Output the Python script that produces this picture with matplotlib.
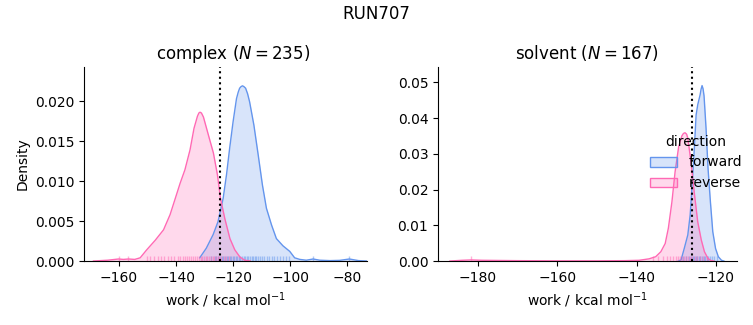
import matplotlib.pyplot as plt
import matplotlib.transforms as mtransforms
from matplotlib.patches import Patch

# density curves (x in kcal/mol, y = density)
complex_fwd_x = [-131.7, -129.4, -127.0, -125.3, -123.5, -122.3, -121.2, -120.0, -118.8, -118.2,
                 -117.7, -117.2, -116.7, -116.2, -115.6, -114.9, -114.2, -112.7, -111.2, -109.7,
                 -108.3, -106.5, -104.8, -102.5, -100.1, -98.4, -96.6, -94.3, -91.9, -89.6,
                 -86.0, -82.6, -79.2, -76.0, -73.0]
complex_fwd_y = [0.0004, 0.0016, 0.0033, 0.0049, 0.0078, 0.0108, 0.0141, 0.0174, 0.0203, 0.0211,
                 0.0216, 0.0218, 0.0219, 0.0218, 0.0216, 0.0209, 0.0199, 0.0170, 0.0133, 0.0095,
                 0.0066, 0.0045, 0.0028, 0.0019, 0.0012, 0.0004, 0.0002, 0.0001, 0.00025, 0.0001,
                 0.00005, 0.00008, 0.00025, 0.00005, 0.0]

complex_rev_x = [-169.0, -164.0, -160.2, -158.5, -156.7, -154.5, -152.6, -150.3, -147.3, -144.4,
                 -142.1, -140.3, -138.6, -136.9, -135.1, -133.7, -132.5, -132.0, -131.6, -131.1,
                 -130.4, -128.7, -126.9, -125.5, -124.4, -122.9, -121.1, -119.4, -117.6, -115.9,
                 -114.0]
complex_rev_y = [0.0, 0.0001, 0.00025, 0.0002, 0.00025, 0.0002, 0.0004, 0.0014, 0.0026, 0.0039,
                 0.0058, 0.0078, 0.0097, 0.0114, 0.0139, 0.0166, 0.0181, 0.0185, 0.0186, 0.0185,
                 0.0180, 0.0158, 0.0135, 0.0108, 0.0078, 0.0053, 0.0028, 0.0014, 0.0005, 0.0001,
                 0.0]

solvent_fwd_x = [-129.5, -128.8, -128.0, -127.1, -126.5, -126.0, -125.5, -125.0, -124.6, -124.0,
                 -123.75, -123.5, -123.25, -123.0, -122.5, -122.0, -121.4, -120.8, -120.1, -119.4,
                 -118.6, -118.0]
solvent_fwd_y = [0.0, 0.0003, 0.0035, 0.0073, 0.0129, 0.0213, 0.0306, 0.0409, 0.0437, 0.0465,
                 0.0481, 0.0491, 0.0482, 0.0462, 0.0372, 0.0260, 0.0166, 0.0082, 0.0035, 0.0012,
                 0.0002, 0.0]

solvent_rev_x = [-187.1, -184.0, -181.7, -179.0, -170.0, -160.0, -150.0, -143.0, -139.4, -136.9,
                 -135.2, -133.9, -132.8, -132.0, -131.1, -130.3, -129.4, -128.6, -128.2, -127.8,
                 -127.4, -127.1, -126.3, -125.4, -124.6, -123.7, -122.9, -122.0, -121.2, -120.5]
solvent_rev_y = [0.0, 0.0002, 0.0003, 0.0002, 0.0001, 0.00005, 0.00005, 0.0001, 0.0002, 0.0006,
                 0.0012, 0.0026, 0.0049, 0.0092, 0.0166, 0.0250, 0.0320, 0.0350, 0.0357, 0.0359,
                 0.0355, 0.0344, 0.0278, 0.0185, 0.0110, 0.0059, 0.0026, 0.0007, 0.0001, 0.0]

# rug positions (approximate individual work values)
complex_fwd_rug = [-127.8, -126.5, -125.9, -125.2, -124.6, -124.0, -123.4, -122.9, -122.3, -121.8,
                   -121.2, -120.7, -120.1, -119.6, -119.0, -118.5, -118.0, -117.4, -116.9, -116.3,
                   -115.8, -115.2, -114.7, -114.1, -113.5, -113.0, -112.4, -111.8, -111.1, -110.5,
                   -109.8, -109.0, -108.2, -107.3, -106.4, -105.5, -104.5, -103.6, -102.6, -101.5,
                   -100.4, -92.0, -79.2]
complex_rev_rug = [-160.2, -156.7, -150.2, -149.0, -147.8, -146.5, -145.4, -144.1, -142.9, -141.8,
                   -140.6, -139.5, -138.5, -137.6, -136.8, -136.0, -135.3, -134.6, -133.9, -133.2,
                   -132.6, -132.0, -131.4, -130.8, -130.2, -129.6, -129.0, -128.4, -127.8, -127.2,
                   -126.6, -126.0, -125.4, -124.8, -124.1, -123.3, -122.4, -121.4]
solvent_fwd_rug = [-128.2, -127.5, -126.9, -126.4, -125.9, -125.5, -125.1, -124.7, -124.3, -123.9,
                   -123.5, -123.1, -122.7, -122.3, -121.9, -121.5, -121.0, -120.5, -119.8]
solvent_rev_rug = [-181.7, -136.0, -134.5, -133.3, -132.4, -131.6, -130.9, -130.2, -129.6, -129.0,
                   -128.5, -128.0, -127.5, -127.0, -126.5, -126.0, -125.4, -124.8, -124.1, -123.2,
                   -122.3]

panels = ['complex', 'solvent']
n_samples = [235, 167]
vline_pos = [-124.6, -126.0]
fwd_color = 'cornflowerblue'
rev_color = 'hotpink'

fig = plt.figure(figsize=(7.53, 3.25), dpi=100)
ax1 = fig.add_axes([0.1116, 0.1969, 0.3758, 0.5969])
ax2 = fig.add_axes([0.5817, 0.1969, 0.3970, 0.5969])

curves = [
    [(complex_fwd_x, complex_fwd_y, complex_fwd_rug, fwd_color),
     (complex_rev_x, complex_rev_y, complex_rev_rug, rev_color)],
    [(solvent_fwd_x, solvent_fwd_y, solvent_fwd_rug, fwd_color),
     (solvent_rev_x, solvent_rev_y, solvent_rev_rug, rev_color)],
]
title_x = [0.528, 0.5]

for ax, name, n, vx, series, tx in zip([ax1, ax2], panels, n_samples, vline_pos, curves, title_x):
    trans = mtransforms.blended_transform_factory(ax.transData, ax.transAxes)
    for xs, ys, rug, col in series:
        ax.fill_between(xs, ys, color=col, alpha=0.25, linewidth=0)
        ax.plot(xs, ys, color=col, linewidth=1, solid_joinstyle='round')
        ax.vlines(rug, 0, 0.025, transform=trans, color=col, alpha=0.5, linewidth=1)
    ax.axvline(vx, color='k', linestyle=':', linewidth=1.5)
    ax.set_title(f'{name} ($N = {n}$)', fontsize=12, x=tx)
    ax.set_xlabel('work / kcal mol$^{-1}$')
    ax.spines['top'].set_visible(False)
    ax.spines['right'].set_visible(False)

ax1.set_xlim(-172.3, -73.0)
ax1.set_ylim(0, 0.02425)
ax1.set_xticks([-160, -140, -120, -100, -80])
ax1.set_yticks([0, 0.005, 0.010, 0.015, 0.020])
ax1.set_ylabel('Density')

ax2.set_xlim(-190.1, -114.7)
ax2.set_ylim(0, 0.0543)
ax2.set_xticks([-180, -160, -140, -120])
ax2.set_yticks([0, 0.01, 0.02, 0.03, 0.04, 0.05])

handles = [Patch(facecolor=(0.39, 0.58, 0.93, 0.25), edgecolor=fwd_color),
           Patch(facecolor=(1.0, 0.41, 0.71, 0.25), edgecolor=rev_color)]
fig.legend(handles, ['forward', 'reverse'], title='direction', frameon=False,
           loc='center left', bbox_to_anchor=(0.846, 0.5), fontsize=10, title_fontsize=10)

fig.suptitle('RUN707', fontsize=12, y=0.985)
fig.savefig('out.png', dpi=100)
